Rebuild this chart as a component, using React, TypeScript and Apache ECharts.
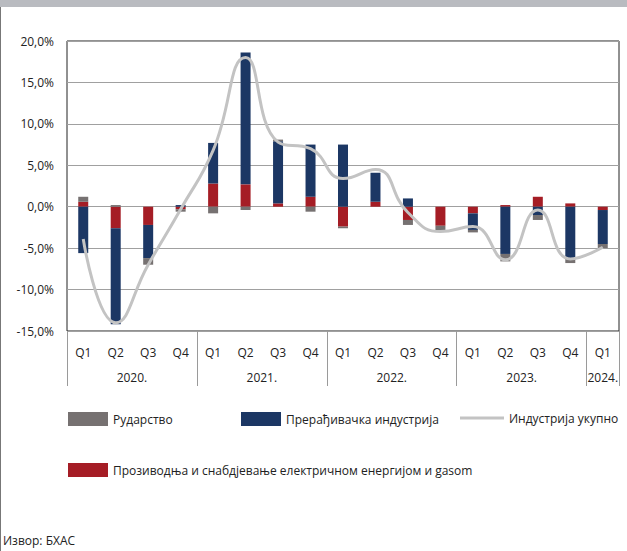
import React, { useEffect, useRef } from 'react';
import * as echarts from 'echarts';

const quarters = ['Q1', 'Q2', 'Q3', 'Q4', 'Q1', 'Q2', 'Q3', 'Q4', 'Q1', 'Q2', 'Q3', 'Q4', 'Q1', 'Q2', 'Q3', 'Q4', 'Q1'];
const years = ['2020.', '2021.', '2022.', '2023.', '2024.'];
const quartersPerYear = [4, 4, 4, 4, 1];

const nameMining = 'Рударство';
const nameManufacturing = 'Прерађивачка индустрија';
const nameTotal = 'Индустрија укупно';
const nameEnergy = 'Прозиводња и снабдјевање електричном енергијом и gasom';

const energy = [0.6, -2.6, -2.2, -0.3, 2.8, 2.7, 0.4, 1.2, -2.4, 0.6, -1.6, -2.3, -0.8, 0.2, 1.2, 0.4, -0.4];
const manufacturing = [-5.6, -11.6, -4.0, 0.2, 4.9, 15.9, 7.5, 6.3, 7.5, 3.5, 1.0, 0.0, -2.0, -5.7, -1.0, -6.3, -4.1];
const mining = [0.6, 0.2, -0.8, -0.3, -0.8, -0.4, 0.2, -0.6, -0.2, 0.0, -0.6, -0.7, -0.3, -0.9, -0.6, -0.5, -0.5];
const total = [-3.9, -14.0, -7.0, -0.3, 6.8, 18.0, 7.8, 7.0, 3.4, 4.5, -0.7, -3.0, -2.4, -6.4, -0.4, -6.3, -4.9];

const FONT = 'Open Sans';
const TEXT = '#222';

export default function App() {
  const ref = useRef<HTMLDivElement>(null);
  useEffect(() => {
    const chart = echarts.init(ref.current!, null, { renderer: 'svg' });

    // year axis: 2*n+1 points (half-quarter resolution)
    const n = quarters.length;
    const yearAxisData: string[] = new Array(2 * n + 1).fill('');
    const sepIdx: number[] = [];
    let start = 0;
    years.forEach((y, i) => {
      const c = quartersPerYear[i];
      yearAxisData[2 * start + c] = y;
      sepIdx.push(2 * start);
      start += c;
    });
    sepIdx.push(2 * n);

    const grid = { left: 67, right: 8, top: 41, bottom: 220 };
    const textStyle = { fontFamily: FONT, fontSize: 12, color: TEXT };
    const legendBase = {
      padding: 0,
      itemWidth: 40,
      itemHeight: 14,
      textStyle,
    };

    chart.setOption({
      animation: false,
      backgroundColor: '#fff',
      textStyle: { fontFamily: FONT },
      title: {
        text: 'Извор: БХАС',
        left: 3,
        top: 534,
        padding: 0,
        textStyle: { fontFamily: FONT, fontSize: 12, fontWeight: 'normal', color: TEXT },
      },
      graphic: [
        { type: 'rect', shape: { x: 0, y: 0, width: 627, height: 7 }, style: { fill: '#b9bbc0' } },
        { type: 'line', shape: { x1: 0.5, y1: 7, x2: 0.5, y2: 551 }, style: { stroke: '#777', lineWidth: 1 } },
      ],
      legend: [
        { ...legendBase, data: [nameMining], left: 68, top: 412, icon: 'rect' },
        { ...legendBase, data: [nameManufacturing], left: 241, top: 412, icon: 'rect' },
        { ...legendBase, data: [nameTotal], left: 460, top: 412, itemWidth: 44, itemHeight: 3, icon: 'rect' },
        { ...legendBase, data: [nameEnergy], left: 68, top: 463, icon: 'rect' },
      ],
      grid: [
        { ...grid, show: true, borderColor: '#222', borderWidth: 1, backgroundColor: 'transparent' },
        { ...grid, show: false },
      ],
      xAxis: [
        {
          type: 'category',
          gridIndex: 0,
          data: quarters,
          axisLine: { show: false },
          axisTick: { show: false },
          axisLabel: { interval: 0, margin: 15, ...textStyle },
        },
        {
          type: 'category',
          gridIndex: 1,
          data: yearAxisData,
          boundaryGap: false,
          axisLine: { show: false },
          axisTick: {
            show: true,
            length: 55,
            interval: (index: number) => sepIdx.includes(index),
            lineStyle: { color: '#9a9a9a', width: 1 },
          },
          axisLabel: { interval: 0, margin: 40, ...textStyle },
        },
      ],
      yAxis: [
        {
          type: 'value',
          gridIndex: 0,
          min: -15,
          max: 20,
          interval: 5,
          axisLine: { show: false },
          axisTick: { show: false },
          splitLine: { show: true, lineStyle: { color: '#a0a0a0', width: 1 } },
          axisLabel: {
            margin: 13,
            ...textStyle,
            formatter: (v: number) => v.toFixed(1).replace('.', ',') + '%',
          },
        },
        {
          type: 'value',
          gridIndex: 1,
          min: 0,
          max: 1,
          show: false,
        },
      ],
      series: [
        {
          name: nameEnergy,
          type: 'bar',
          stack: 'total',
          barWidth: 10,
          data: energy,
          itemStyle: { color: '#a51d25' },
        },
        {
          name: nameManufacturing,
          type: 'bar',
          stack: 'total',
          barWidth: 10,
          data: manufacturing,
          itemStyle: { color: '#1c3764' },
        },
        {
          name: nameMining,
          type: 'bar',
          stack: 'total',
          barWidth: 10,
          data: mining,
          itemStyle: { color: '#767171' },
        },
        {
          name: nameTotal,
          type: 'line',
          data: total,
          smooth: 0.5,
          symbol: 'none',
          lineStyle: { color: '#c3c3c3', width: 3 },
          itemStyle: { color: '#c3c3c3' },
          z: 5,
        },
      ],
    });
    return () => chart.dispose();
  }, []);
  return <div ref={ref} style={{ position: 'absolute', left: 0, top: 0, width: 627, height: 551 }} />;
}
